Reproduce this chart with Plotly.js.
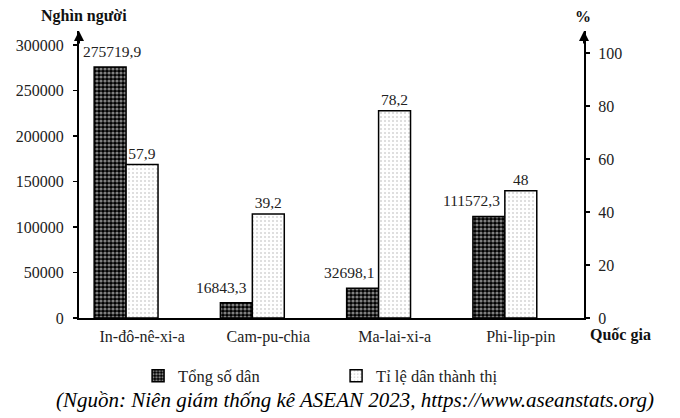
<!DOCTYPE html>
<html>
<head>
<meta charset="utf-8">
<script src="https://cdn.plot.ly/plotly-3.0.1.min.js"></script>
<style>html,body{margin:0;padding:0;background:#fff;}#chart{width:680px;height:418px;}</style>
</head>
<body>
<div id="chart"></div>
<script>
var countries = ["In-đô-nê-xi-a", "Cam-pu-chia", "Ma-lai-xi-a", "Phi-lip-pin"];
var population = [275719.9, 16843.3, 32698.1, 111572.3];
var urbanRate = [57.9, 39.2, 78.2, 48];
var leftTicks = [0, 50000, 100000, 150000, 200000, 250000, 300000];
var rightTicks = [0, 20, 40, 60, 80, 100];

function fmt(v) { return String(v).replace('.', ','); }

var FONT = "Liberation Serif";
var Y1MAX = 315385, Y2MAX = 108.3;
var BW = 0.253, PAIR_SHIFT = -0.127;

var tracePop = {
  type: 'bar', name: 'Tổng số dân',
  x: countries, y: population, yaxis: 'y',
  width: BW, offset: PAIR_SHIFT - BW,
  marker: {color: '#000', line: {color: '#000', width: 1.5},
    pattern: {shape: '.', bgcolor: '#000', fgcolor: '#fff', size: 4, solidity: 0.5, fillmode: 'overlay'}},
  hoverinfo: 'none'
};
var traceUrban = {
  type: 'bar', name: 'Tỉ lệ dân thành thị',
  x: countries, y: urbanRate, yaxis: 'y2',
  width: BW, offset: PAIR_SHIFT,
  text: urbanRate.map(fmt), textposition: 'outside', constraintext: 'none', cliponaxis: false,
  textfont: {family: FONT, size: 15.5, color: '#222'},
  marker: {color: '#fff', line: {color: '#000', width: 1.5},
    pattern: {shape: '.', bgcolor: '#fff', fgcolor: '#aaa', size: 4, solidity: 0.2, fillmode: 'overlay'}},
  hoverinfo: 'none'
};

var annotations = [
  {xref: 'paper', yref: 'paper', x: 0, y: 1, ax: 0, ay: 14, axref: 'pixel', ayref: 'pixel', text: '',
    showarrow: true, arrowhead: 2, arrowsize: 1, arrowwidth: 2, arrowcolor: '#000', standoff: 0},
  {xref: 'paper', yref: 'paper', x: 1, y: 1, ax: 0, ay: 14, axref: 'pixel', ayref: 'pixel', text: '',
    showarrow: true, arrowhead: 2, arrowsize: 1, arrowwidth: 2, arrowcolor: '#000', standoff: 0},
  {xref: 'paper', yref: 'paper', x: 0.01, y: 1.052, text: '<b>Nghìn người</b>', showarrow: false,
    xanchor: 'center', yanchor: 'middle', font: {family: FONT, size: 16, color: '#111'}},
  {xref: 'paper', yref: 'paper', x: 0.998, y: 1.052, text: '<b>%</b>', showarrow: false,
    xanchor: 'center', yanchor: 'middle', font: {family: FONT, size: 16, color: '#111'}},
  {xref: 'paper', yref: 'paper', x: 1.073, y: -0.059, text: '<b>Quốc gia</b>', showarrow: false,
    xanchor: 'center', yanchor: 'middle', font: {family: FONT, size: 16, color: '#111'}},
  {xref: 'paper', yref: 'paper', x: 0.547, y: -0.286, text: '<i>(Nguồn: Niên giám thống kê ASEAN 2023, https://www.aseanstats.org)</i>',
    showarrow: false, xanchor: 'center', yanchor: 'middle', font: {family: FONT, size: 21, color: '#000'}}
];

// population value labels: centred above the bar when it is taller than its neighbour,
// otherwise placed just left of the neighbouring urban bar
population.forEach(function (v, i) {
  var taller = (v / Y1MAX) > (urbanRate[i] / Y2MAX);
  annotations.push({
    xref: 'x', yref: 'y', x: countries[i], y: v, text: fmt(v), showarrow: false,
    xanchor: taller ? 'center' : 'right', yanchor: 'bottom',
    xshift: taller ? -30 : -19, yshift: 5,
    font: {family: FONT, size: 15.5, color: '#222'}
  });
});

var layout = {
  width: 680, height: 418,
  margin: {l: 79, r: 96, t: 31, b: 100, pad: 0},
  paper_bgcolor: '#fff', plot_bgcolor: '#fff',
  font: {family: FONT, size: 16, color: '#222'},
  showlegend: true,
  legend: {orientation: 'h', x: 0.117, xanchor: 'left', y: -0.202, yanchor: 'middle',
    font: {family: FONT, size: 16.5, color: '#222'}, entrywidth: 153, traceorder: 'normal'},
  xaxis: {type: 'category', range: [-0.5, 3.5], showline: true, linecolor: '#000', linewidth: 2,
    ticks: '', showgrid: false, zeroline: false, fixedrange: true, ticklabelstandoff: 3,
    tickfont: {family: FONT, size: 16, color: '#222'}},
  yaxis: {range: [0, Y1MAX], tickvals: leftTicks, tickformat: 'd', ticks: 'outside', ticklen: 4,
    tickcolor: '#000', tickwidth: 1.5, showline: true, linecolor: '#000', linewidth: 2,
    showgrid: false, zeroline: false, fixedrange: true, ticklabelstandoff: 6,
    tickfont: {family: FONT, size: 16, color: '#222'}},
  yaxis2: {overlaying: 'y', side: 'right', range: [0, Y2MAX], tickvals: rightTicks, ticks: 'outside', ticklen: 4,
    tickcolor: '#000', tickwidth: 1.5, showline: true, linecolor: '#000', linewidth: 2,
    showgrid: false, zeroline: false, fixedrange: true, ticklabelstandoff: 5,
    tickfont: {family: FONT, size: 16, color: '#222'}},
  annotations: annotations
};

Plotly.newPlot('chart', [tracePop, traceUrban], layout, {staticPlot: true, displayModeBar: false});
</script>
</body>
</html>
